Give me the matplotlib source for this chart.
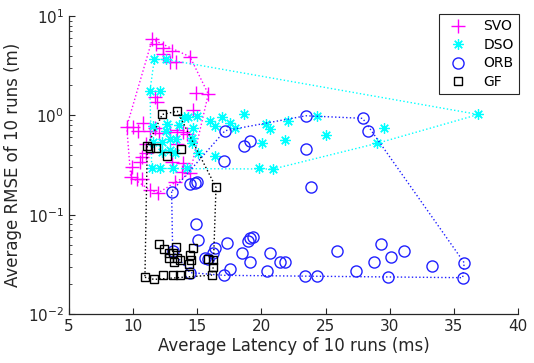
import numpy as np
import matplotlib
matplotlib.use("Agg")
import matplotlib.pyplot as plt
from matplotlib.ticker import LogLocator, LogFormatterMathtext, NullFormatter

# latency (ms) / RMSE (m) pairs
svo_x = [11.49, 11.76, 12.35, 13.0, 12.35, 12.87, 13.34, 14.43, 14.90, 15.86,
         11.70, 11.84, 14.69, 9.50, 9.96, 10.40, 10.74, 11.31, 11.70, 12.04,
         12.87, 13.44, 13.86, 14.17, 11.0, 13.44, 10.67, 10.53, 11.0, 13.0,
         13.91, 13.78, 14.43, 9.89, 9.81, 10.28, 10.67, 13.26, 11.31, 11.96]
svo_y = [5.82, 5.22, 4.73, 4.48, 4.14, 3.47, 3.47, 3.89, 1.67, 1.64,
         1.54, 1.37, 1.13, 0.77, 0.757, 0.70, 0.83, 0.70, 0.74, 0.66,
         0.684, 0.71, 0.675, 0.65, 0.52, 0.52, 0.383, 0.341, 0.414, 0.341,
         0.329, 0.27, 0.26, 0.30, 0.241, 0.227, 0.227, 0.214, 0.177, 0.166]

dso_x = [11.65, 12.56, 11.31, 12.09, 13.99, 14.28, 15.0, 16.03, 16.89, 16.38,
         17.55, 17.94, 18.64, 20.39, 20.67, 22.09, 24.31, 25.03, 29.55, 29.03,
         36.90, 20.07, 21.87, 16.38, 15.08, 19.85, 20.90, 11.52, 12.61, 13.60,
         14.69, 12.56, 11.57, 12.23, 12.87, 13.34, 14.56, 14.56, 12.23, 12.87,
         13.26, 11.45, 12.09, 13.08, 14.17]
dso_y = [3.66, 3.66, 1.76, 1.76, 0.955, 0.955, 0.995, 0.867, 0.962, 0.789,
         0.836, 0.745, 1.02, 0.826, 0.723, 0.877, 0.984, 0.634, 0.75, 0.523,
         1.02, 0.532, 0.564, 0.389, 0.414, 0.292, 0.288, 0.789, 0.817, 0.798,
         0.753, 0.70, 0.542, 0.542, 0.573, 0.573, 0.586, 0.53, 0.43, 0.448,
         0.414, 0.292, 0.292, 0.292, 0.292]

orb_x = [17.16, 23.47, 27.89, 28.33, 19.11, 18.68, 23.47, 17.10, 23.86, 13.0,
         14.43, 14.82, 14.95, 14.90, 15.08, 16.38, 16.25, 15.60, 15.86, 17.29,
         17.55, 17.08, 18.52, 18.97, 19.11, 19.32, 19.11, 20.67, 20.47, 21.41,
         21.84, 23.43, 24.37, 25.87, 27.35, 28.77, 29.32, 30.07, 29.89, 31.13,
         33.27, 35.81, 35.69, 13.08, 14.43]
orb_y = [0.70, 0.99, 0.933, 0.695, 0.551, 0.491, 0.455, 0.347, 0.191, 0.171,
         0.202, 0.21, 0.214, 0.0803, 0.0555, 0.0458, 0.0408, 0.0363, 0.0355, 0.0524,
         0.0281, 0.0245, 0.0407, 0.0545, 0.0577, 0.0602, 0.033, 0.0413, 0.027, 0.0336,
         0.0336, 0.0241, 0.0243, 0.0433, 0.027, 0.0336, 0.0506, 0.0377, 0.0237, 0.0426,
         0.0303, 0.0328, 0.0232, 0.043, 0.0261]

gf_x = [12.27, 13.44, 11.10, 11.31, 11.78, 13.75, 12.66, 16.46, 12.04, 12.42,
        13.34, 12.82, 13.08, 13.44, 12.82, 13.22, 13.68, 14.66, 14.43, 14.52,
        14.34, 15.80, 16.20, 16.25, 10.92, 11.64, 12.35, 13.13, 13.65, 14.33,
        16.11]
gf_y = [1.02, 1.10, 0.491, 0.466, 0.472, 0.455, 0.389, 0.188, 0.0504, 0.0448,
        0.0469, 0.0413, 0.0413, 0.0363, 0.0363, 0.0331, 0.0349, 0.0458, 0.0392, 0.0349,
        0.0316, 0.0355, 0.0349, 0.0298, 0.0234, 0.0223, 0.0246, 0.0246, 0.0246, 0.0251,
        0.0246]


def hull(xs, ys):
    # convex hull in (x, log y), i.e. as it looks on the plot
    pts = sorted(set(zip(xs, np.log10(ys))))

    def cross(o, a, b):
        return (a[0] - o[0]) * (b[1] - o[1]) - (a[1] - o[1]) * (b[0] - o[0])

    lower, upper = [], []
    for p in pts:
        while len(lower) >= 2 and cross(lower[-2], lower[-1], p) <= 0:
            lower.pop()
        lower.append(p)
    for p in reversed(pts):
        while len(upper) >= 2 and cross(upper[-2], upper[-1], p) <= 0:
            upper.pop()
        upper.append(p)
    h = lower[:-1] + upper[:-1] + [lower[0]]
    return [p[0] for p in h], [10 ** p[1] for p in h]


fig = plt.figure(figsize=(5.34, 3.63), dpi=100)
ax = fig.add_axes([0.1292, 0.135, 0.8408, 0.8209])

series = [
    ("SVO", svo_x, svo_y, "#ff00ff", "+", 9.5, 1.0),
    ("DSO", dso_x, dso_y, "#00ffff", (8, 2, 0), 7.5, 0.9),
    ("ORB", orb_x, orb_y, "#2020ff", "o", 8, 1.0),
    ("GF", gf_x, gf_y, "black", "s", 6, 1.0),
]

handles = []
for name, xs, ys, color, marker, ms, lw in series:
    hx, hy = hull(xs, ys)
    ax.plot(hx, hy, linestyle=":", color=color, linewidth=1)
    h, = ax.plot(xs, ys, linestyle="none", marker=marker, markersize=ms,
                 markerfacecolor="none", markeredgecolor=color,
                 markeredgewidth=lw, label=name)
    handles.append(h)

ax.set_yscale("log")
ax.set_xlim(5, 40)
ax.set_ylim(1e-2, 1e1)
ax.set_xticks(np.arange(5, 41, 5))
ax.yaxis.set_major_locator(LogLocator(base=10, numticks=10))
ax.yaxis.set_major_formatter(LogFormatterMathtext())
ax.yaxis.set_minor_locator(LogLocator(base=10, subs=np.arange(2, 10), numticks=10))
ax.yaxis.set_minor_formatter(NullFormatter())

for side in ["top", "right"]:
    ax.spines[side].set_visible(False)
for side in ["left", "bottom"]:
    ax.spines[side].set_color("#262626")
    ax.spines[side].set_linewidth(0.9)
ax.tick_params(which="both", direction="in", colors="#262626", labelsize=11)
ax.tick_params(which="major", length=4)
ax.tick_params(which="minor", length=2.5)

ax.set_xlabel("Average Latency of 10 runs (ms)", fontsize=12, color="#262626", labelpad=2)
ax.set_ylabel("Average RMSE of 10 runs (m)", fontsize=12, color="#262626", labelpad=4)

leg = ax.legend(handles=handles, loc="upper right", bbox_to_anchor=(1.003, 1.007),
                fontsize=10, frameon=True, fancybox=False, framealpha=1,
                edgecolor="#262626", handlelength=1.9, handletextpad=0.9,
                labelspacing=0.32, borderpad=0.4, borderaxespad=0, numpoints=1)
leg.get_frame().set_linewidth(0.8)

fig.savefig("out.png", dpi=100)
